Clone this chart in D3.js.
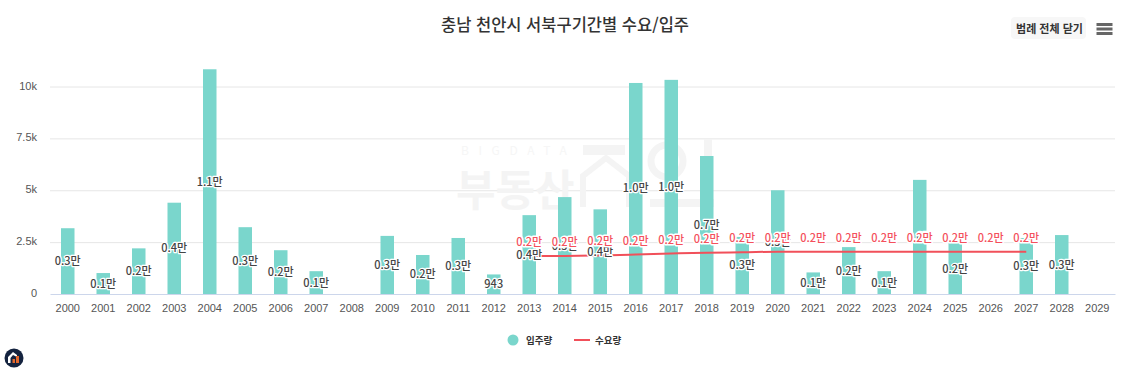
<!DOCTYPE html>
<html lang="ko">
<head>
<meta charset="utf-8">
<title>충남 천안시 서북구기간별 수요/입주</title>
<script src="https://cdn.jsdelivr.net/npm/d3@7"></script>
<style>
  html, body { margin: 0; padding: 0; background: #fff; }
  svg { display: block; font-family: "Noto Sans CJK KR", "Noto Sans", sans-serif; }
  .halo { paint-order: stroke; stroke: #fff; stroke-width: 2.5px; stroke-linejoin: round; }
  .halo-red { stroke-width: 3px; }
</style>
</head>
<body>
<div id="chart"></div>
<script>
const years = d3.range(2000, 2030).map(String); // x categories
const supply = [3170, 1010, 2200, 4400, 10830, 3220, 2110, 1100, 0, 2800,
                1880, 2700, 943, 3800, 4670, 4080, 10170, 10320, 6650, 2750,
                5000, 1040, 2260, 1100, 5500, 2450, 0, 2700, 2840, 0];
const demandYears = d3.range(2013, 2028).map(String);
const demand = [1830, 1835, 1860, 1900, 1950, 1990, 2010, 2040, 2040,
                2040, 2040, 2040, 2040, 2040, 2040];
const yTicks = [0, 2500, 5000, 7500, 10000];
const yTickLabels = ['0', '2.5k', '5k', '7.5k', '10k'];

const width = 1130;
const height = 373;
const plot = { left: 50, right: 1115, top: 86.5, bottom: 294 };

const svg = d3.select('#chart').append('svg')
  .attr('width', width)
  .attr('height', height);

const xScale = d3.scaleBand().domain(years).range([plot.left, plot.right]);
const yScale = d3.scaleLinear().domain([0, 10000]).range([plot.bottom, plot.top]);
const barWidth = 13.5;

const cx = (d) => xScale(d) + xScale.bandwidth() / 2;
// 1000 넘는 값은 만 단위로 표시
const fmt = (v) => (v >= 1000 ? (v / 10000).toFixed(1) + '만' : String(v));

// title
svg.append('text')
  .attr('x', 565).attr('y', 31)
  .attr('text-anchor', 'middle')
  .attr('font-size', 16.5).attr('font-weight', 500)
  .attr('fill', '#333')
  .text('충남 천안시 서북구기간별 수요/입주');

// button + menu icon
svg.append('rect')
  .attr('x', 1011).attr('y', 17).attr('width', 75).attr('height', 22).attr('rx', 4)
  .attr('fill', '#f7f7f7');
svg.append('text')
  .attr('x', 1049.5).attr('y', 33)
  .attr('text-anchor', 'middle')
  .attr('font-size', 11).attr('font-weight', 700)
  .attr('fill', '#333')
  .text('범례 전체 닫기');
svg.append('g').selectAll('rect')
  .data([23, 27.5, 32])
  .join('rect')
  .attr('x', 1096.5).attr('y', (d) => d).attr('width', 16).attr('height', 3)
  .attr('fill', '#666');

// gridlines
const gridlines = svg.append('g')
  .attr('transform', `translate(${plot.left}, 0)`)
  .call(d3.axisLeft(yScale).tickValues(yTicks.slice(1)).tickFormat('').tickSize(-(plot.right - plot.left)));
gridlines.select('.domain').remove();
gridlines.selectAll('line').attr('stroke', '#e6e6e6');

// watermark
const wm = svg.append('g').attr('fill', '#f4f4f4');
wm.append('text')
  .attr('x', 461).attr('y', 155)
  .attr('font-size', 12).attr('letter-spacing', 9.6)
  .attr('fill', '#f6f6f6')
  .text('BIGDATA');
wm.append('text')
  .attr('x', 456).attr('y', 206)
  .attr('font-size', 43).attr('font-weight', 700)
  .text('부동산');
wm.append('rect').attr('x', 583).attr('y', 145).attr('width', 42).attr('height', 10);
wm.append('path')
  .attr('d', 'M583 207V176L606 158L629 176V207')
  .attr('fill', 'none').attr('stroke', '#f4f4f4').attr('stroke-width', 6);
wm.append('circle')
  .attr('cx', 667).attr('cy', 161).attr('r', 16)
  .attr('fill', 'none').attr('stroke', '#f4f4f4').attr('stroke-width', 7);
wm.append('rect').attr('x', 704).attr('y', 139).attr('width', 8).attr('height', 48);
wm.append('rect').attr('x', 650).attr('y', 199).attr('width', 64).attr('height', 8);

// bars
svg.append('g').selectAll('rect')
  .data(years.map((y, i) => ({ year: y, value: supply[i] })).filter((d) => d.value > 0))
  .join('rect')
  .attr('x', (d) => cx(d.year) - barWidth / 2)
  .attr('y', (d) => yScale(d.value))
  .attr('width', barWidth)
  .attr('height', (d) => yScale(0) - yScale(d.value))
  .attr('fill', '#7ad6cc');

// x axis
const xAxis = svg.append('g')
  .attr('transform', `translate(0, ${plot.bottom})`)
  .call(d3.axisBottom(xScale).tickSize(0).tickPadding(10));
xAxis.select('.domain').attr('stroke', '#ccd6eb');
xAxis.selectAll('text')
  .attr('font-family', 'inherit')
  .attr('font-size', 11).attr('fill', '#555');

// y axis
const yAxis = svg.append('g')
  .attr('transform', `translate(37, -1)`)
  .call(d3.axisLeft(yScale).tickValues(yTicks).tickFormat((d, i) => yTickLabels[i]).tickSize(0).tickPadding(0));
yAxis.select('.domain').remove();
yAxis.selectAll('text')
  .attr('font-family', 'inherit')
  .attr('font-size', 11).attr('fill', '#555');

// demand line
const demandLine = d3.line()
  .x((d) => cx(d.year))
  .y((d) => yScale(d.value))
  .curve(d3.curveMonotoneX);
const demandData = demandYears.map((y, i) => ({ year: y, value: demand[i] }));
svg.append('path')
  .datum(demandData)
  .attr('d', demandLine)
  .attr('fill', 'none')
  .attr('stroke', '#f1505a')
  .attr('stroke-width', 2);

// bar labels, middle of each bar
svg.append('g').selectAll('text')
  .data(years.map((y, i) => ({ year: y, value: supply[i] })).filter((d) => d.value > 0))
  .join('text')
  .attr('class', 'halo')
  .attr('x', (d) => cx(d.year))
  .attr('y', (d) => yScale(d.value / 2) + 4)
  .attr('text-anchor', 'middle')
  .attr('font-size', 11).attr('font-weight', 500)
  .attr('fill', '#444')
  .text((d) => fmt(d.value));

// demand labels above the line
svg.append('g').selectAll('text')
  .data(demandData)
  .join('text')
  .attr('class', 'halo halo-red')
  .attr('x', (d) => cx(d.year))
  .attr('y', (d) => yScale(d.value) - 10)
  .attr('text-anchor', 'middle')
  .attr('font-size', 11).attr('font-weight', 500)
  .attr('fill', '#f4505c')
  .text((d) => fmt(d.value));

// legend
svg.append('circle').attr('cx', 513).attr('cy', 340).attr('r', 5.5).attr('fill', '#7ad6cc');
svg.append('text')
  .attr('x', 526).attr('y', 344)
  .attr('font-size', 9.5).attr('font-weight', 700).attr('fill', '#333')
  .text('입주량');
svg.append('line')
  .attr('x1', 574).attr('x2', 590).attr('y1', 340).attr('y2', 340)
  .attr('stroke', '#f1505a').attr('stroke-width', 2);
svg.append('text')
  .attr('x', 595).attr('y', 344)
  .attr('font-size', 9.5).attr('font-weight', 700).attr('fill', '#333')
  .text('수요량');

// corner logo
const logo = svg.append('g').attr('transform', 'translate(14, 358)');
logo.append('circle').attr('r', 9.5).attr('fill', '#14233f');
logo.append('path')
  .attr('d', 'M-6 5V-1L-1 -6L3 -3V-1L-1 -3L-3.5 0V5Z')
  .attr('fill', '#fff');
logo.append('rect').attr('x', -1.5).attr('y', 1).attr('width', 2.5).attr('height', 4).attr('fill', '#e2672c');
logo.append('rect').attr('x', 2).attr('y', -2).attr('width', 3).attr('height', 7).attr('fill', '#e2672c');
</script>
</body>
</html>
